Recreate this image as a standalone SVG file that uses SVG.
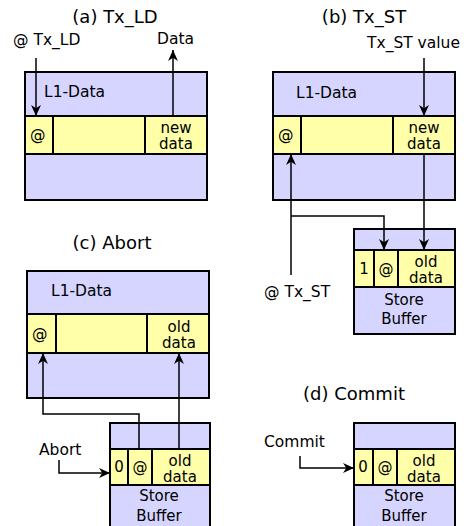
<svg xmlns="http://www.w3.org/2000/svg" width="464" height="526" viewBox="0 0 464 526">
<defs>
<marker id="ah" viewBox="0 0 10 10" refX="10" refY="5" markerWidth="11" markerHeight="11" markerUnits="userSpaceOnUse" orient="auto">
<path d="M0,0.5 L10,5 L0,9.5 L3,5 Z" fill="#000"/>
</marker>
<style>
text{font-family:"DejaVu Sans",sans-serif;fill:#000}
.t{font-size:18px;text-anchor:middle}
.l{font-size:15.5px}
.c{font-size:15px;text-anchor:middle}
.box{fill:#d5d5ff;stroke:#000;stroke-width:2}
.band{fill:#ffffaa;stroke:#000;stroke-width:2}
.div{stroke:#000;stroke-width:2}
.a{fill:none;stroke:#000;stroke-width:1.5;marker-end:url(#ah)}
</style>
</defs>
<rect width="464" height="526" fill="#fff"/>
<!-- titles -->
<text class="t" x="115" y="23">(a) Tx_LD</text>
<text class="t" x="364" y="23">(b) Tx_ST</text>
<text class="t" x="112" y="249">(c) Abort</text>
<text class="t" x="354" y="400">(d) Commit</text>

<g id="a-l1">
<rect class="box" x="25" y="72" width="182" height="128"/>
<text class="l" x="44" y="97">L1-Data</text>
<rect class="band" x="25" y="116" width="182" height="38"/>
<line class="div" x1="53" y1="116" x2="53" y2="154"/>
<line class="div" x1="145" y1="116" x2="145" y2="154"/>
<text class="l" x="30" y="140">@</text>
<text class="c" x="176" y="133">new</text>
<text class="c" x="176" y="149">data</text>
</g>
<g id="a-labels">
<text class="l" x="13" y="45">@ Tx_LD</text>
<text class="l" x="157" y="44">Data</text>
</g>

<g id="b-l1">
<rect class="box" x="273" y="72" width="182" height="128"/>
<text class="l" x="296" y="98">L1-Data</text>
<rect class="band" x="273" y="116" width="182" height="38"/>
<line class="div" x1="301" y1="116" x2="301" y2="154"/>
<line class="div" x1="393" y1="116" x2="393" y2="154"/>
<text class="l" x="278" y="140">@</text>
<text class="c" x="424" y="133">new</text>
<text class="c" x="424" y="149">data</text>
</g>
<g id="b-sb">
<rect class="box" x="354" y="229" width="101" height="105"/>
<rect class="band" x="354" y="250" width="101" height="37"/>
<line class="div" x1="374" y1="250" x2="374" y2="287"/>
<line class="div" x1="398" y1="250" x2="398" y2="287"/>
<text class="c" x="364" y="274">1</text>
<text class="c" x="386" y="274">@</text>
<text class="c" x="426" y="267">old</text>
<text class="c" x="426" y="283">data</text>
<text class="c" x="404" y="305">Store</text>
<text class="c" x="404" y="324">Buffer</text>
</g>
<g id="b-labels">
<text class="l" x="367" y="48">Tx_ST value</text>
<text class="l" x="264" y="297">@ Tx_ST</text>
</g>

<g id="c-l1">
<rect class="box" x="27" y="271" width="182" height="127"/>
<text class="l" x="51" y="296">L1-Data</text>
<rect class="band" x="27" y="314" width="182" height="39"/>
<line class="div" x1="56" y1="314" x2="56" y2="353"/>
<line class="div" x1="147" y1="314" x2="147" y2="353"/>
<text class="l" x="32" y="339">@</text>
<text class="c" x="179" y="332">old</text>
<text class="c" x="179" y="348">data</text>
</g>
<g id="c-sb">
<rect class="box" x="110" y="423" width="100" height="110"/>
<rect class="band" x="110" y="449" width="100" height="36"/>
<line class="div" x1="128" y1="449" x2="128" y2="485"/>
<line class="div" x1="152" y1="449" x2="152" y2="485"/>
<text class="c" x="119" y="472">0</text>
<text class="c" x="140" y="472">@</text>
<text class="c" x="180" y="466">old</text>
<text class="c" x="180" y="482">data</text>
<text class="c" x="159" y="501">Store</text>
<text class="c" x="159" y="521">Buffer</text>
</g>
<g id="c-labels">
<text class="l" x="39" y="455">Abort</text>
</g>

<g id="d-sb">
<rect class="box" x="354" y="423" width="101" height="110"/>
<rect class="band" x="354" y="449" width="101" height="36"/>
<line class="div" x1="373" y1="449" x2="373" y2="485"/>
<line class="div" x1="397" y1="449" x2="397" y2="485"/>
<text class="c" x="363" y="472">0</text>
<text class="c" x="385" y="472">@</text>
<text class="c" x="424" y="466">old</text>
<text class="c" x="424" y="482">data</text>
<text class="c" x="404" y="501">Store</text>
<text class="c" x="404" y="521">Buffer</text>
</g>
<g id="d-labels">
<text class="l" x="264" y="447">Commit</text>
</g>

<g id="connectors">
<line class="a" x1="36" y1="58" x2="36" y2="116"/>
<line class="a" x1="173" y1="116" x2="173" y2="50"/>
<line class="a" x1="424" y1="58" x2="424" y2="116"/>
<line class="a" x1="291" y1="275" x2="291" y2="154"/>
<polyline class="a" points="291,216 384,216 384,250"/>
<line class="a" x1="424" y1="154" x2="424" y2="250"/>
<polyline class="a" points="139,449 139,414 43,414 43,353"/>
<line class="a" x1="179" y1="449" x2="179" y2="353"/>
<polyline class="a" points="59,460 59,473 110,473"/>
<polyline class="a" points="300,456 300,468 354,468"/>
</g>
</svg>
